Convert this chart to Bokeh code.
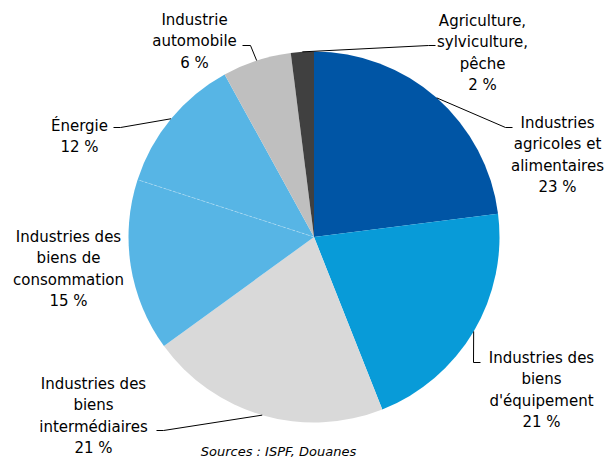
import math
from bokeh.plotting import figure
from bokeh.models import Range1d, ColumnDataSource
from bokeh.core.properties import value
from bokeh.embed import file_html
from bokeh.resources import INLINE

# ---- data ----
categories = [
    "Industries agricoles et alimentaires",
    "Industries des biens d'équipement",
    "Industries des biens intermédiaires",
    "Industries des biens de consommation",
    "Énergie",
    "Industrie automobile",
    "Agriculture, sylviculture, pêche",
]
shares = [23, 21, 21, 15, 12, 6, 2]
label_lines = [
    ["Industries", "agricoles et", "alimentaires"],
    ["Industries des", "biens", "d'équipement"],
    ["Industries des", "biens", "intermédiaires"],
    ["Industries des", "biens de", "consommation"],
    ["Énergie"],
    ["Industrie", "automobile"],
    ["Agriculture,", "sylviculture,", "pêche"],
]
colors = ["#0055A5", "#089BD8", "#D9D9D9", "#57B5E5", "#57B5E5", "#BFBFBF", "#404040"]
source_text = "Sources : ISPF, Douanes"

# ---- layout (image pixel coordinates) ----
W, H = 605, 458
CX, CY, R = 313.5, 236.5, 185.5
FONT = "DejaVu Sans"
FS = 15
LH = 21.5
# label block: centre x, first-line y
label_pos = [(557, 122), (541, 357), (93, 383), (68, 236), (79, 125), (194, 19), (482, 20)]
# leader: elbow point and end point (None = no leader)
leaders = [
    ((505, 127), (512, 127)),
    ((473, 362), (480, 362)),
    ((163, 430), (156, 430)),
    None,
    ((120, 127), (113, 127)),
    ((250, 45), (242, 45)),
    ((428, 45), (435, 45)),
]


def Y(yimg):
    return H - yimg


p = figure(width=W, height=H, x_range=Range1d(0, W), y_range=Range1d(0, H),
           output_backend="svg", toolbar_location=None, min_border=0)
p.axis.visible = False
p.grid.visible = False
p.outline_line_color = None
p.background_fill_color = "white"
p.border_fill_color = "white"

total = sum(shares)
cum = 0
starts, ends, mids = [], [], []
for s in shares:
    a0 = cum / total
    cum += s
    a1 = cum / total
    starts.append(math.pi / 2 - 2 * math.pi * a0)
    ends.append(math.pi / 2 - 2 * math.pi * a1)
    mids.append((a0 + a1) / 2)

src = ColumnDataSource(dict(start=starts, end=ends, color=colors, cat=categories))
p.wedge(x=CX, y=Y(CY), radius=R, start_angle="start", end_angle="end", direction="clock",
        fill_color="color", line_color=None, source=src)

# faint separator between the two light-blue slices
ang = ends[3]
p.line([CX, CX + R * math.cos(ang)], [Y(CY), Y(CY) + R * math.sin(ang)],
       line_color="white", line_width=0.7, line_alpha=0.45, line_dash="3 2")

# labels + leaders
for i, (lines, s) in enumerate(zip(label_lines, shares)):
    txt = lines + [f"{s} %"]
    lx, ly = label_pos[i]
    xs = [lx] * len(txt)
    ys = [Y(ly + k * LH) for k in range(len(txt))]
    p.text(x=xs, y=ys, text=txt, text_align="center", text_baseline="middle",
           text_font=value(FONT), text_font_size=f"{FS}px", text_color="#000000")
    if leaders[i] is not None:
        m = mids[i] * 2 * math.pi
        ex = CX + R * math.sin(m)
        ey = CY - R * math.cos(m)
        (bx, by), (tx, ty) = leaders[i]
        p.line([ex, bx, tx], [Y(ey), Y(by), Y(ty)], line_color="#000000", line_width=1)

p.text(x=[278], y=[Y(451)], text=[source_text], text_align="center", text_baseline="middle",
       text_font=value(FONT), text_font_size="13px", text_font_style="italic", text_color="#000000")

open("out.html", "w").write(file_html(p, INLINE))
